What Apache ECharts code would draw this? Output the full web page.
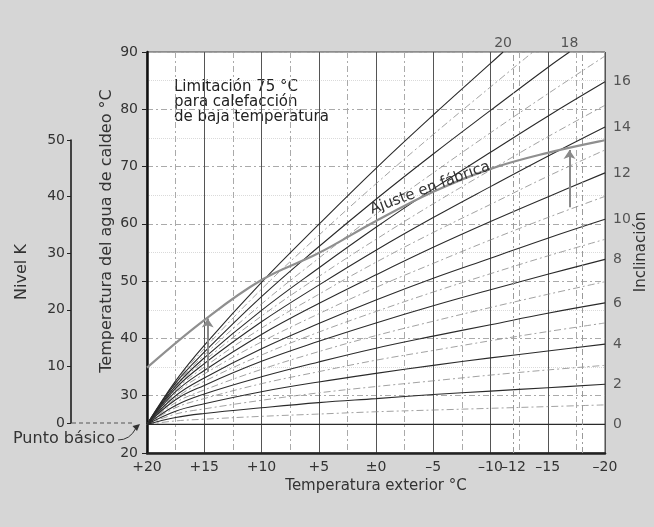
<!DOCTYPE html>
<html>
<head>
<meta charset="utf-8">
<script src="https://cdn.jsdelivr.net/npm/echarts@6/dist/echarts.min.js"></script>
<style>
  html, body { margin: 0; padding: 0; background: #d6d6d6; }
  #chart { width: 654px; height: 527px; }
</style>
</head>
<body>
<div id="chart"></div>
<script>
// temperatura exterior (°C) donde se leyeron las curvas
const outsideTemps = [20, 17.5, 15, 10, 5, 0, -5, -10, -15, -20];
// inclinación de cada curva
const slopes = [0, 1, 2, 3, 4, 5, 6, 7, 8, 9, 10, 11, 12, 13, 14, 15, 16, 17, 18, 19, 20];
// temperatura del agua de caldeo de cada curva (null = por encima de 90)
const flowTemps = [
  [25, 25, 25, 25, 25, 25, 25, 25, 25, 25],
  [25, 25.6, 25.9, 26.4, 26.8, 27.2, 27.5, 27.8, 28.1, 28.4],
  [25, 26.2, 26.9, 27.9, 28.8, 29.5, 30.2, 30.8, 31.4, 32.0],
  [25, 26.8, 27.7, 29.2, 30.5, 31.6, 32.6, 33.6, 34.5, 35.3],
  [25, 27.3, 28.6, 30.7, 32.4, 33.9, 35.3, 36.6, 37.8, 39.0],
  [25, 27.9, 29.5, 32.1, 34.2, 36.2, 37.9, 39.6, 41.2, 42.7],
  [25, 28.3, 30.3, 33.3, 35.9, 38.3, 40.4, 42.4, 44.4, 46.2],
  [25, 28.8, 31.0, 34.6, 37.7, 40.5, 43.0, 45.4, 47.7, 49.9],
  [25, 29.3, 31.8, 36.0, 39.5, 42.7, 45.7, 48.5, 51.2, 53.8],
  [25, 29.6, 32.5, 37.1, 41.1, 44.7, 48.1, 51.3, 54.4, 57.3],
  [25, 30.0, 33.1, 38.2, 42.6, 46.7, 50.5, 54.0, 57.5, 60.8],
  [25, 30.4, 33.8, 39.4, 44.3, 48.9, 53.1, 57.2, 61.1, 64.8],
  [25, 30.7, 34.4, 40.7, 46.1, 51.1, 55.9, 60.4, 64.7, 68.9],
  [25, 31.0, 35.0, 41.8, 47.7, 53.3, 58.5, 63.4, 68.3, 72.9],
  [25, 31.3, 35.6, 42.9, 49.3, 55.4, 61.1, 66.5, 71.8, 76.9],
  [25, 31.5, 36.1, 43.9, 50.8, 57.3, 63.5, 69.4, 75.2, 80.7],
  [25, 31.7, 36.6, 44.9, 52.3, 59.4, 66.1, 72.5, 78.8, 84.8],
  [25, 31.9, 37.1, 46.0, 54.0, 61.7, 68.9, 75.9, 82.7, 89.3],
  [25, 32.2, 37.6, 47.3, 56.0, 64.3, 72.2, 79.8, 87.3, null],
  [25, 32.4, 38.2, 48.6, 58.0, 67.0, 75.6, 83.9, null, null],
  [25, 32.6, 38.8, 49.8, 59.9, 69.7, 79.0, 88.0, null, null]
];
// curvas que salen por el borde superior (90 °C)
const exitSlopes = [18, 19, 20];
const exitTemps = [-16.9, -13.7, -11.1];

// curva "Ajuste en fábrica"
const factoryOutside = [20, 15, 10, 5, 0, -5, -10, -15, -20];
const factoryFlow = [34.9, 43.2, 50.2, 54.9, 60.5, 65.6, 69.6, 72.4, 74.6];

// flechas verticales
const arrowOutside = [14.7, -16.9];
const arrowFrom = [34.2, 62.9];
const arrowTo = [43.5, 72.9];

// ejes
const xTickLabels = [20, 15, 10, 5, 0, -5, -10, -12, -15, -18, -20];
const extraGridLines = [-12, -18];

const FONT = 'DejaVu Sans';
const chart = echarts.init(document.getElementById('chart'));

const curveSeries = slopes.map((s, i) => {
  const pts = [];
  flowTemps[i].forEach((v, j) => {
    if (v !== null) pts.push([outsideTemps[j], v]);
  });
  const e = exitSlopes.indexOf(s);
  if (e >= 0) pts.push([exitTemps[e], 90]);
  const even = s % 2 === 0;
  const serie = {
    type: 'line',
    name: 'Inclinación ' + s,
    data: pts,
    smooth: 0.4,
    symbol: 'none',
    silent: true,
    z: even ? 4 : 3,
    lineStyle: even
      ? { color: '#2a2a2a', width: s === 0 ? 1.4 : 1.1 }
      : { color: '#8a8a8a', width: 0.8, type: [7, 3, 2, 3] }
  };
  if (s === 0) {
    serie.markLine = {
      silent: true,
      symbol: 'none',
      label: { show: false },
      lineStyle: { color: '#9a9a9a', width: 1, type: [6, 3, 2, 3] },
      data: extraGridLines.map(v => ({ xAxis: v }))
    };
  }
  return serie;
});

// etiquetas de inclinación (pares) al final de cada curva
const slopeLabels = slopes.filter(s => s % 2 === 0).map(s => {
  const e = exitSlopes.indexOf(s);
  if (e >= 0) {
    return { value: [exitTemps[e], 90, s], label: { position: 'top', distance: 2 } };
  }
  const row = flowTemps[s];
  return { value: [outsideTemps[row.length - 1], row[row.length - 1], s] };
});

const option = {
  animation: false,
  backgroundColor: '#d6d6d6',
  textStyle: { fontFamily: FONT },
  grid: [
    {
      left: 147, right: 49, top: 52, bottom: 74,
      show: true, backgroundColor: '#fff', borderColor: '#444', borderWidth: 1,
      containLabel: false, outerBoundsMode: 'none'
    },
    {
      left: 71, width: 1, top: 140, height: 283,
      containLabel: false, outerBoundsMode: 'none'
    }
  ],
  xAxis: [
    {
      gridIndex: 0,
      type: 'value',
      min: -20, max: 20, interval: 5,
      inverse: true,
      axisLine: { show: true, onZero: false, lineStyle: { color: '#222', width: 2.5 } },
      axisTick: { show: false },
      axisLabel: {
        customValues: xTickLabels,
        showMinLabel: true, showMaxLabel: true,
        fontSize: 14, color: '#333', margin: 7,
        formatter: v => v > 0 ? '+' + v : (v === 0 ? '±0' : '–' + (-v))
      },
      splitLine: { show: true, lineStyle: { color: '#555', width: 1 } },
      minorTick: { show: false, splitNumber: 2 },
      minorSplitLine: { show: true, lineStyle: { color: '#aaa', width: 1, type: [6, 3, 2, 3] } },
      name: 'Temperatura exterior °C',
      nameLocation: 'middle',
      nameGap: 19,
      nameTextStyle: { fontSize: 15, color: '#333' }
    },
    { gridIndex: 1, type: 'value', show: false, min: 0, max: 1 }
  ],
  yAxis: [
    {
      gridIndex: 0,
      type: 'value',
      min: 20, max: 90, interval: 10,
      axisLine: { show: true, onZero: false, lineStyle: { color: '#111', width: 2.5 } },
      axisTick: { show: true, length: 5, lineStyle: { color: '#222' } },
      axisLabel: { fontSize: 14, color: '#333', margin: 9 },
      splitLine: { show: true, lineStyle: { color: '#aaa', width: 1, type: [6, 3, 2, 3] } },
      minorTick: { show: false, splitNumber: 2 },
      minorSplitLine: { show: true, lineStyle: { color: '#dadada', width: 1, type: 'dotted' } }
    },
    {
      gridIndex: 1,
      type: 'value',
      min: 0, max: 50, interval: 10,
      axisLine: { show: true, onZero: false, lineStyle: { color: '#111', width: 1.5 } },
      axisTick: { show: true, length: 4, lineStyle: { color: '#222' } },
      axisLabel: { fontSize: 14, color: '#333', margin: 6 },
      splitLine: { show: false }
    }
  ],
  series: [
    ...curveSeries,
    {
      type: 'line',
      name: 'Ajuste en fábrica',
      data: factoryOutside.map((x, i) => [x, factoryFlow[i]]),
      smooth: 0.4,
      symbol: 'none',
      silent: true,
      z: 5,
      lineStyle: { color: '#8f8f8f', width: 2.2 }
    },
    {
      type: 'lines',
      coordinateSystem: 'cartesian2d',
      silent: true,
      z: 6,
      symbol: ['none', 'arrow'],
      symbolSize: 9,
      lineStyle: { color: '#8a8a8a', width: 2, opacity: 1, curveness: 0 },
      data: arrowOutside.map((x, i) => ({ coords: [[x, arrowFrom[i]], [x, arrowTo[i]]] }))
    },
    {
      type: 'scatter',
      symbolSize: 0,
      silent: true,
      clip: false,
      z: 7,
      label: {
        show: true,
        position: 'right',
        distance: 8,
        fontSize: 14,
        color: '#333',
        formatter: p => String(p.value[2])
      },
      data: slopeLabels
    }
  ],
  graphic: [
    {
      type: 'text', x: 174, y: 80, silent: true,
      style: {
        text: 'Limitación 75 °C\npara calefacción\nde baja temperatura',
        font: '15px "DejaVu Sans"', fill: '#222', lineHeight: 15,
        align: 'left', verticalAlign: 'top'
      }
    },
    {
      type: 'text', x: 430, y: 188, rotation: 20.5 * Math.PI / 180, silent: true, z: 10,
      style: {
        text: 'Ajuste en fábrica', font: '15px "DejaVu Sans"', fill: '#333',
        align: 'center', verticalAlign: 'middle'
      }
    },
    {
      type: 'text', x: 107, y: 231, rotation: Math.PI / 2, silent: true,
      style: {
        text: 'Temperatura del agua de caldeo °C', font: '16px "DejaVu Sans"', fill: '#333',
        align: 'center', verticalAlign: 'middle'
      }
    },
    {
      type: 'text', x: 22, y: 272, rotation: Math.PI / 2, silent: true,
      style: {
        text: 'Nivel K', font: '16px "DejaVu Sans"', fill: '#333',
        align: 'center', verticalAlign: 'middle'
      }
    },
    {
      type: 'text', x: 641, y: 252, rotation: Math.PI / 2, silent: true,
      style: {
        text: 'Inclinación', font: '15px "DejaVu Sans"', fill: '#333',
        align: 'center', verticalAlign: 'middle'
      }
    },
    {
      type: 'text', x: 13, y: 439, silent: true,
      style: {
        text: 'Punto básico', font: '16px "DejaVu Sans"', fill: '#333',
        align: 'left', verticalAlign: 'middle'
      }
    },
    {
      type: 'line', silent: true,
      shape: { x1: 72, y1: 423, x2: 134, y2: 423 },
      style: { stroke: '#555', lineWidth: 1, lineDash: [4, 3] }
    },
    {
      type: 'bezierCurve', silent: true,
      shape: { x1: 118, y1: 440, x2: 136, y2: 428, cpx1: 130, cpy1: 440 },
      style: { stroke: '#333', lineWidth: 1, fill: null }
    },
    {
      type: 'polygon', silent: true,
      shape: { points: [[140, 424], [137, 431], [132.5, 426]] },
      style: { fill: '#333' }
    }
  ]
};

chart.setOption(option);
</script>
</body>
</html>
